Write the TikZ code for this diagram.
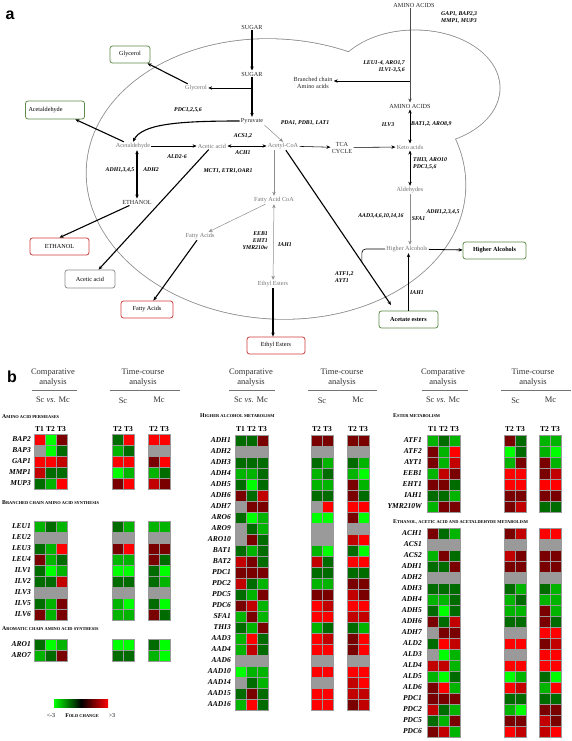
\documentclass[tikz,border=0pt]{standalone}
\usepackage{fontspec}
\setmainfont{Liberation Serif}
\newfontfamily\sfb{Liberation Sans}
\usetikzlibrary{arrows.meta}
\definecolor{hR}{HTML}{FF0000}
\definecolor{hr}{HTML}{C20000}
\definecolor{hd}{HTML}{7A0000}
\definecolor{hG}{HTML}{00FF00}
\definecolor{hg}{HTML}{00B400}
\definecolor{hk}{HTML}{006C00}
\definecolor{hx}{HTML}{9A9A9A}
\definecolor{bxg}{HTML}{5E8C48}
\definecolor{bxr}{HTML}{D23C3C}
\definecolor{bxk}{HTML}{8C8C8C}
\definecolor{elg}{HTML}{8A8A8A}
\newcommand\fa{\fontsize{6.2}{7}\selectfont}
\newcommand\fe{\fontsize{5.8}{7}\selectfont\bfseries\itshape}
\newcommand\fb{\fontsize{8.5}{9.5}\selectfont}
\newcommand\fg{\fontsize{7.5}{8}\selectfont\bfseries\itshape}
\newcommand\ft{\fontsize{7.5}{8}\selectfont\bfseries}
\newcommand\sch[2]{{\fontsize{5.8}{6}\selectfont\bfseries #1}{\fontsize{4.4}{5}\selectfont\bfseries #2}}
\newcommand\hm[3]{%
  \foreach \row [count=\j] in {#3} {%
    \foreach \c [count=\i] in \row {%
      \draw[cell, fill=h\c] ({#1+11*(\i-1)},{#2+11*(\j-1)}) rectangle ++(11,11);
    }%
  }}
\newcommand\genes[4]{%
  \foreach \g [count=\j] in {#4} {%
    \node[gene, anchor=east] (#1\j) at (#2,{#3+11*\j-5.5}) {\g};
  }}
\newcommand\tthree[2]{%
  \foreach \t [count=\i] in {T1,T2,T3} {\node[th] (#1\i) at ({#2+11*\i-5.5},429.5) {\t};}}
\newcommand\ttwo[2]{%
  \foreach \t [count=\i] in {T2,T3} {\node[th] (#1\i) at ({#2+11*\i-5.5},429.5) {\t};}}
\newcommand\titles[9]{%
  \node[tt] (#1ca) at (#2,377.5) {Comparative\\analysis};
  \draw[uline] (#3,390) -- (#4,390);
  \node[tt] (#1sv) at (#2,400) {Sc \textit{vs.} Mc};
  \node[tt] (#1tc) at (#5,377.5) {Time-course\\analysis};
  \draw[uline] (#6,390.5) -- (#7,390.5);
  \node[tt] (#1sc) at (#8,401) {Sc};
  \node[tt] (#1mc) at (#9,400) {Mc};}
\begin{document}
\begin{tikzpicture}[x=1pt,y=-1pt,
  txt/.style={font=\fa, inner sep=1.2pt, align=center, text=black!85},
  gtxt/.style={txt, text=black!55},
  enz/.style={font=\fe, inner sep=0pt, align=center},
  bx/.style={rounded corners=2.5pt, line width=0.8pt, font=\fa, minimum height=17pt, inner sep=1pt, fill=white},
  gbx/.style={bx, draw=bxg},
  rbx/.style={bx, draw=bxr},
  kbx/.style={bx, draw=bxk},
  ar/.style={-{Stealth[length=4pt,width=3.4pt]}, line width=0.55pt},
  dar/.style={{Stealth[length=4pt,width=3.4pt]}-{Stealth[length=4pt,width=3.4pt]}, line width=0.55pt},
  tk/.style={ar, line width=1.1pt},
  dtk/.style={dar, line width=1.1pt},
  ga/.style={ar, draw=black!45, line width=0.5pt},
  dga/.style={dar, draw=black!45, line width=0.5pt},
  cell/.style={draw=black!40, line width=0.3pt},
  gene/.style={font=\fg, inner sep=0pt},
  th/.style={font=\ft, inner sep=0pt},
  tt/.style={font=\fb, inner sep=0pt, align=center, text=black!80},
  uline/.style={draw=black!55, line width=0.8pt},
  sect/.style={inner sep=0pt, anchor=west}]
\useasboundingbox (0,0) rectangle (572,741);

% ---------- panel a : compartments ----------
\fill[elg, rotate around={-4:(276,179)}] (276,179) ellipse [x radius=190.4, y radius=140.4];
\fill[elg] (415,88) ellipse [x radius=85.4, y radius=58.4];
\fill[white, rotate around={-4:(276,179)}] (276,179) ellipse [x radius=189.6, y radius=139.6];
\fill[white] (415,88) ellipse [x radius=84.6, y radius=57.6];

\node[font={\sfb\bfseries\fontsize{16}{16}\selectfont}, inner sep=0pt] (la) at (10,15) {a};

% nodes
\node[txt] (sugarTop) at (252,27) {SUGAR};
\node[txt] (sugar) at (252,74) {SUGAR};
\node[txt] (pyr) at (252,121) {Pyruvate};
\node[gtxt] (glyc) at (196,88) {Glycerol};
\node[gbx, minimum width=40pt] (glycBox) at (130,54.5) {Glycerol};
\node[gtxt] (acald) at (133,146) {Acetaldehyde};
\node[gbx, text width=53pt, inner sep=3pt, minimum height=18pt, align=left] (acaldBox) at (55,110) {Acetaldehyde};
\node[gtxt] (acetic) at (212,146) {Acetic acid};
\node[gtxt] (acoa) at (283,146) {Acetyl-CoA};
\node[txt] (tca) at (342,147.5) {TCA\\CYCLE};
\node[gtxt] (keto) at (410,147) {Keto acids};
\node[txt] (aaTop) at (414,5) {AMINO ACIDS};
\node[txt] (aa) at (410,106) {AMINO ACIDS};
\node[txt] (bcaa) at (313,82.5) {Branched chain\\Amino acids};
\node[gtxt] (ald) at (410,190) {Aldehydes};
\node[gtxt] (hal) at (407,249) {Higher Alcohols};
\node[gbx, minimum width=63pt] (halBox) at (494.5,250.5) {\bfseries Higher Alcohols};
\node[gbx, minimum width=59pt] (aceBox) at (408.5,319.5) {\bfseries Acetate esters};
\node[txt] (eth) at (137,202) {ETHANOL};
\node[rbx, minimum width=59pt] (ethBox) at (59.5,246.5) {ETHANOL};
\node[kbx, minimum width=50pt, minimum height=18pt] (aceticBox) at (90,279) {Acetic acid};
\node[gtxt] (facoa) at (274,200) {Fatty Acid CoA};
\node[gtxt] (fa) at (200,236) {Fatty Acids};
\node[rbx, minimum width=52pt] (faBox) at (147,309.5) {Fatty Acids};
\node[gtxt] (ee) at (273,284) {Ethyl Esters};
\node[rbx, minimum width=58pt] (eeBox) at (276,345.5) {Ethyl Esters};

% connectors
\draw[tk] (sugarTop) -- (sugar);
\draw[tk] (sugar) -- (pyr);
\coordinate (br1) at (252,88);
\draw[ar, line width=0.8pt] (br1) -- (glyc);
\draw[tk] (glyc) -- (glycBox);
\draw[tk] (pyr.west) .. controls (178,121) and (142,124) .. (acald.north);
\draw[ar] (acald) -- (acetic);
\draw[dar] (acetic) -- (acoa);
\draw[ga] (pyr.south east) -- (acoa.north);
\draw[tk] (acald) -- (acaldBox);
\draw[dtk] (acald.south -| eth) -- (eth);
\draw[tk] (eth) -- (ethBox.north);
\draw[tk] (acetic) -- (aceticBox);
\draw[ga] (acoa.south -| facoa) -- (facoa);
\draw[ga] (facoa) -- (fa);
\draw[tk] (fa) -- (faBox);
\draw[dga] (facoa) -- (ee);
\draw[tk] (ee.south) -- (ee.south |- eeBox.north);
\coordinate (aceIn) at (391,305);
\draw[tk] (acoa) -- (aceIn);
\coordinate (merge) at (361.8,262);
\draw[line width=0.6pt, rounded corners=4pt] (hal.west) -| (merge);
\draw[ar] (acoa) -- (tca);
\draw[ar] (tca) -- (keto);
\draw[ar, draw=black!70] (aaTop.south -| aa) -- (aa);
\coordinate (br2) at (410,81);
\draw[ar] (br2) -- (bcaa.east |- br2);
\draw[dar] (aa) -- (keto);
\draw[dar] (keto) -- (ald);
\draw[ga] (ald.south) -- (ald.south |- hal.north);
\draw[ar, line width=0.8pt] (hal) -- (halBox);
\draw[ar] (aceBox.north) -- (aceBox.north |- hal.south);

% enzyme labels
\node[enz] (e1) at (188,110) {PDC1,2,5,6};
\node[enz] (e2) at (243,136.5) {ACS1,2};
\node[enz] (e3) at (243,153) {ACH1};
\node[enz] (e4) at (177,157) {ALD2-6};
\node[enz] (e5) at (305,123) {PDA1, PDB1, LAT1};
\node[enz] (e6) at (228,171) {MCT1, ETR1,OAR1};
\node[enz] (e7) at (120,170) {ADH1,3,4,5};
\node[enz] (e8) at (151,170) {ADH2};
\node[enz, align=right, anchor=east] (e9) at (268,241) {EEB1\\EHT1\\YMR210w};
\node[enz] (e10) at (285,244.5) {IAH1};
\node[enz, align=left, anchor=west] (e11) at (441,17.5) {GAP1, BAP2,3\\MMP1, MUP3};
\node[enz, align=right, anchor=east] (e12) at (405,66.5) {LEU1-4, ARO1,7\\ILV1-3,5,6};
\node[enz] (e13) at (388,125) {ILV3};
\node[enz, anchor=west] (e14) at (411,124) {BAT1,2, ARO8,9};
\node[enz, align=left, anchor=west] (e15) at (413,163.5) {THI3, ARO10\\PDC1,5,6};
\node[enz] (e16) at (381,216) {AAD3,4,6,10,14,16};
\node[enz] (e17) at (418.5,219) {SFA1};
\node[enz] (e18) at (443,212) {ADH1,2,3,4,5};
\node[enz, align=left, anchor=west] (e19) at (335,277.5) {ATF1,2\\AYT1};
\node[enz] (e20) at (417,293) {IAH1};

% ---------- panel b ----------
\node[font={\sfb\bfseries\fontsize{16}{16}\selectfont}, inner sep=0pt] (lb) at (12,377) {b};
\titles{A}{53}{32}{77}{143}{110}{180}{123}{159}
\titles{B}{251}{229}{275}{342}{308}{377}{322}{358}
\titles{C}{443}{422}{468}{533}{501}{571}{515.5}{550.5}

% column 1
\node[sect] (h1) at (2,417) {\sch{A}{MINO ACID PERMEASES}};
\tthree{ta}{34} \ttwo{tb}{112} \ttwo{tc}{148}
\genes{g1-}{31}{434}{BAP2,BAP3,GAP1,MMP1,MUP3}
\hm{34}{434}{{R,G,d},{x,G,k},{R,R,r},{r,k,k},{k,g,R}}
\hm{112}{434}{{k,R},{g,k},{R,R},{G,g},{d,R}}
\hm{148}{434}{{R,R},{x,x},{d,R},{g,k},{r,d}}

\node[sect] (h2) at (2,503) {\sch{B}{RANCHED CHAIN AMINO ACID SYNTHESIS}};
\genes{g2-}{31}{521}{LEU1,LEU2,LEU3,LEU4,ILV1,ILV2,ILV3,ILV5,ILV6}
\hm{34}{521}{{g,k,g},{x,x,x},{k,g,R},{d,g,k},{k,G,g},{k,k,r},{x,x,x},{k,g,d},{d,g,d}}
\hm{112}{521}{{k,g},{x,x},{d,R},{g,g},{G,G},{k,k},{x,x},{g,G},{g,g}}
\hm{148}{521}{{g,g},{x,x},{d,d},{d,k},{k,G},{k,g},{x,x},{k,G},{d,k}}

\node[sect] (h3) at (2,629) {\sch{A}{ROMATIC CHAIN AMINO ACID SYNTHESIS}};
\genes{g3-}{31}{639}{ARO1,ARO7}
\hm{34}{639}{{k,G,g},{g,k,d}}
\hm{112}{639}{{G,G},{k,k}}
\hm{148}{639}{{k,G},{g,G}}

\shade[left color=hG, right color=hR, middle color=black] (54,699) rectangle (108,707);
\node[font=\fontsize{6}{6}\selectfont, inner sep=0pt] (lo) at (51,716) {<-3};
\node[inner sep=0pt] (fc) at (82,716) {\sch{F}{OLD CHANGE}};
\node[font=\fontsize{6}{6}\selectfont, inner sep=0pt] (hi) at (112,716) {>3};

% column 2
\node[sect] (h4) at (200,416) {\sch{H}{IGHER ALCOHOL METABOLISM}};
\tthree{td}{235} \ttwo{te}{311} \ttwo{tf}{347}
\genes{g4-}{231}{435}{ADH1,ADH2,ADH3,ADH4,ADH5,ADH6,ADH7,ARO6,ARO9,ARO10,BAT1,BAT2,PDC1,PDC2,PDC5,PDC6,SFA1,THI3,AAD3,AAD4,AAD6,AAD10,AAD14,AAD15,AAD16}
\hm{235}{435}{{k,k,d},{x,x,x},{k,k,k},{g,g,k},{k,G,k},{d,k,r},{x,d,d},{k,G,g},{x,k,g},{x,d,k},{k,g,k},{r,d,k},{d,d,d},{r,k,g},{k,g,d},{d,r,g},{g,d,g},{k,g,d},{g,R,k},{g,r,k},{x,x,x},{G,g,g},{x,k,g},{k,d,k},{g,R,k}}
\hm{311}{435}{{d,d},{x,x},{k,g},{g,k},{g,g},{k,k},{x,R},{G,G},{x,x},{x,x},{g,G},{r,k},{k,k},{g,g},{d,d},{R,r},{R,R},{g,k},{R,r},{R,R},{x,x},{R,R},{x,x},{R,R},{R,R}}
\hm{347}{435}{{d,d},{x,x},{k,g},{g,G},{d,g},{d,k},{R,R},{d,G},{x,x},{r,R},{k,G},{R,R},{k,k},{d,d},{r,d},{R,R},{r,r},{k,g},{d,R},{d,R},{x,x},{R,R},{r,R},{r,r},{d,r}}

% column 3
\node[sect] (h5) at (393,416) {\sch{E}{STER METABOLISM}};
\tthree{tg}{427} \ttwo{th}{504} \ttwo{ti}{539}
\genes{g5-}{422}{435}{ATF1,ATF2,AYT1,EEB1,EHT1,IAH1,YMR210W}
\hm{427}{435}{{g,k,g},{d,g,R},{d,g,r},{g,r,d},{d,d,k},{k,k,g},{g,d,d}}
\hm{504}{435}{{d,k},{G,k},{g,d},{R,R},{R,R},{d,d},{d,r}}
\hm{539}{435}{{g,g},{g,G},{d,g},{d,r},{R,R},{d,d},{k,k}}

\node[sect] (h6) at (393,522) {\sch{E}{THANOL, ACETIC ACID AND ACETALDEHYDE METABOLISM}};
\genes{g6-}{422}{528}{ACH1,ACS1,ACS2,ADH1,ADH2,ADH3,ADH4,ADH5,ADH6,ADH7,ALD2,ALD3,ALD4,ALD5,ALD6,PDC1,PDC2,PDC5,PDC6}
\hm{427}{528}{{d,k,g},{x,x,x},{g,d,k},{k,k,d},{x,x,x},{k,k,k},{g,g,k},{k,G,k},{d,k,r},{x,d,d},{k,R,r},{x,G,g},{r,r,g},{g,G,k},{d,R,g},{d,d,d},{r,k,g},{k,g,d},{d,r,g}}
\hm{504}{528}{{d,r},{x,x},{r,d},{d,d},{x,x},{k,g},{g,k},{g,g},{k,k},{x,x},{R,R},{x,x},{R,R},{G,g},{R,r},{k,k},{g,G},{d,d},{R,r}}
\hm{539}{528}{{R,R},{x,x},{d,d},{d,d},{x,x},{k,g},{g,g},{d,g},{d,k},{R,R},{d,r},{R,R},{R,R},{k,G},{g,R},{k,k},{d,d},{r,d},{r,R}}
\end{tikzpicture}
\end{document}
